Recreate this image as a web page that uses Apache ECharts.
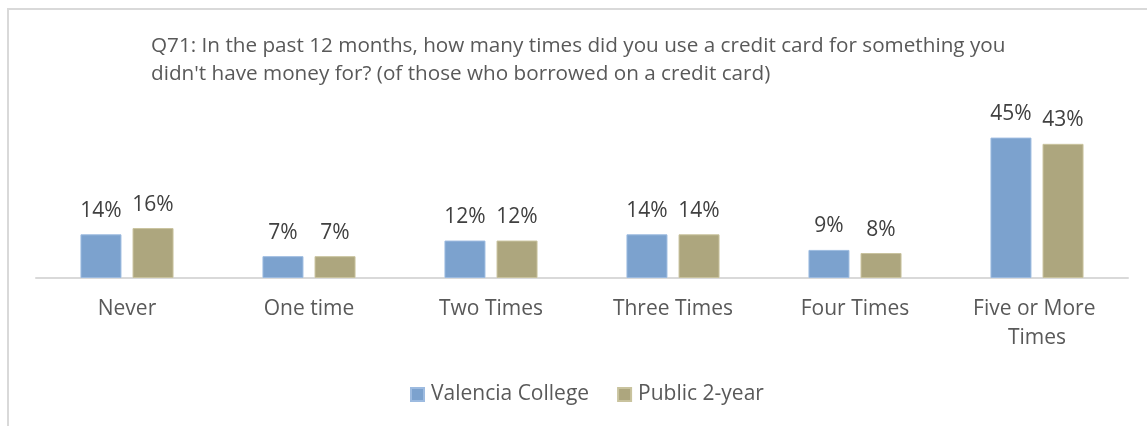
<!DOCTYPE html>
<html>
<head>
<meta charset="utf-8">
<script src="https://cdn.jsdelivr.net/npm/echarts@6/dist/echarts.min.js"></script>
<style>
  html, body { margin: 0; padding: 0; background: #fff; }
  #chart { width: 1147px; height: 426px; }
</style>
</head>
<body>
<div id="chart"></div>
<script>
// Survey answers: how often a credit card was used without having the money
const categories = ['Never', 'One time', 'Two Times', 'Three Times', 'Four Times', 'Five or More Times'];
const valencia = [0.14, 0.07, 0.12, 0.14, 0.09, 0.45];
const public2yr = [0.16, 0.07, 0.12, 0.14, 0.08, 0.43];
const seriesNames = ['Valencia College', 'Public 2-year'];
const titleText = "Q71: In the past 12 months, how many times did you use a credit card for something you\ndidn't have money for? (of those who borrowed on a credit card)";

const FONT = '"Open Sans", "Noto Sans", sans-serif';
const TEXT = '#595959';

const chart = echarts.init(document.getElementById('chart'), null, { renderer: 'canvas' });

const pct = p => Math.round(p.value * 100) + '%';

chart.setOption({
  animation: false,
  backgroundColor: '#fff',
  textStyle: { fontFamily: FONT },
  graphic: [{
    type: 'rect',
    shape: { x: 8, y: 9, width: 1300, height: 600 },
    style: { fill: 'none', stroke: '#d9d9d9', lineWidth: 2 },
    silent: true
  }],
  title: {
    text: titleText,
    left: 146,
    top: 27,
    textStyle: { fontFamily: FONT, fontSize: 20.7, fontWeight: 'normal', color: TEXT, lineHeight: 28 }
  },
  legend: {
    data: seriesNames,
    top: 379,
    left: 405,
    itemWidth: 13,
    itemHeight: 13,
    itemGap: 28,
    icon: 'rect',
    textStyle: { fontFamily: FONT, fontSize: 21, color: TEXT, padding: [0, 0, 0, 2] }
  },
  grid: { left: 36, right: 19, top: 122, bottom: 148, containLabel: false },
  xAxis: {
    type: 'category',
    data: categories,
    axisLine: { lineStyle: { color: '#d9d9d9', width: 2 } },
    axisTick: { show: false },
    axisLabel: {
      fontFamily: FONT, fontSize: 21, color: TEXT, margin: 17,
      lineHeight: 29, width: 150, overflow: 'break', interval: 0
    }
  },
  yAxis: {
    type: 'value',
    min: 0, max: 0.5,
    show: false,
    splitLine: { show: false }
  },
  series: [
    {
      name: seriesNames[0], type: 'bar', data: valencia,
      barWidth: 41, barGap: '27%',
      itemStyle: { color: '#7ca2ce', borderColor: '#9dbbe0', borderWidth: 1 },
      label: { show: true, position: 'top', distance: 13, formatter: pct, fontFamily: FONT, fontSize: 21, color: '#404040' }
    },
    {
      name: seriesNames[1], type: 'bar', data: public2yr,
      barWidth: 41,
      itemStyle: { color: '#ada67e', borderColor: '#c9c39e', borderWidth: 1 },
      label: { show: true, position: 'top', distance: 13, formatter: pct, fontFamily: FONT, fontSize: 21, color: '#404040' }
    }
  ]
});
</script>
</body>
</html>
